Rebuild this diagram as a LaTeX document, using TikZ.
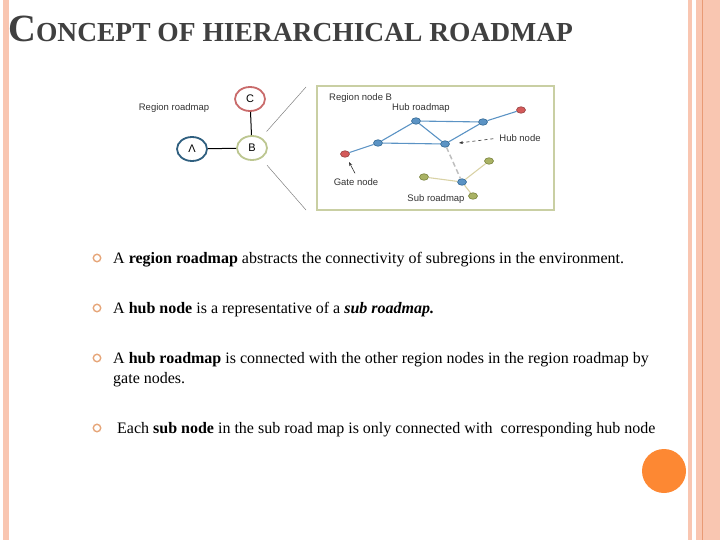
\documentclass[tikz,border=0pt]{standalone}
\usepackage{fontspec}
\setmainfont{Liberation Serif}
\newfontfamily\labelfont{Liberation Sans}
\usetikzlibrary{arrows.meta,shapes.geometric}

\definecolor{stripe}{HTML}{F9C6B1}
\definecolor{stripedark}{HTML}{E99A75}
\definecolor{titlegray}{HTML}{404040}
\definecolor{regionC}{HTML}{C96B6B}
\definecolor{regionB}{HTML}{BCC690}
\definecolor{regionA}{HTML}{2F5F7F}
\definecolor{hubfill}{HTML}{5B93C4}
\definecolor{hubedge}{HTML}{2E6591}
\definecolor{gatefill}{HTML}{D45A5A}
\definecolor{subfill}{HTML}{A9B264}
\definecolor{subedge}{HTML}{77803A}
\definecolor{subline}{HTML}{D9D2A6}
\definecolor{boxedge}{HTML}{C9CFA3}
\definecolor{bulletring}{HTML}{E6A67A}
\definecolor{sun}{HTML}{FD8833}

\tikzset{region/.style={ellipse, draw, line width=1.8pt, fill=white,
  minimum width=30pt, minimum height=24pt, inner sep=0pt,
  font=\labelfont\fontsize{11}{11}\selectfont}}
\tikzset{hub/.style={ellipse, draw=hubedge, fill=hubfill, line width=.6pt,
  minimum width=9pt, minimum height=6.5pt, inner sep=0pt}}
\tikzset{gate/.style={hub, draw=gatefill!70!black, fill=gatefill}}
\tikzset{subnode/.style={hub, draw=subedge, fill=subfill}}
\tikzset{hubline/.style={draw=hubfill, line width=1.1pt}}
\tikzset{subroad/.style={draw=subline, line width=1.1pt}}
\tikzset{lbl/.style={font=\labelfont\fontsize{9.5}{9.5}\selectfont, text=black!80, inner sep=0pt}}
\tikzset{bullet/.style={circle, draw=bulletring, line width=1.4pt,
  minimum size=7.5pt, inner sep=0pt}}
\tikzset{item/.style={anchor=base west, inner sep=0pt, align=left,
  font=\fontsize{16}{20}\selectfont}}

\begin{document}
\begin{tikzpicture}[x=1pt, y=-1pt]
\useasboundingbox (0,0) rectangle (720,540);

% side stripes
\fill[stripe] (3,0) rectangle (9,540);
\fill[stripe] (688,0) rectangle (692,540);
\fill[stripe] (696,0) rectangle (720,540);
\fill[stripedark] (702,0) rectangle (703.2,540);

% title
\node[anchor=base west, inner sep=0pt, text=titlegray, font=\bfseries] (title) at (8,42)
  {\fontsize{38.5}{38.5}\selectfont C\fontsize{27.5}{27.5}\selectfont ONCEPT OF HIERARCHICAL ROADMAP};

% region roadmap
\node[lbl] (rlbl) at (174,108) {Region roadmap};
\node[region, draw=regionC] (C) at (250,99) {C};
\node[region, draw=regionB] (B) at (252,148) {B};
\node[region, draw=regionA] (A) at (192,149) {Λ};
\draw[line width=1pt] (C) -- (B);
\draw[line width=1pt] (A) -- (B);

\coordinate (ztop) at (306,87);
\coordinate (zbot) at (306,210);
\draw[gray, line width=.5pt, shorten <=22pt] (B.center) -- (ztop);
\draw[gray, line width=.5pt, shorten <=23pt] (B.center) -- (zbot);

% region node B
\draw[boxedge, line width=1.5pt] (317,86) rectangle (554,210);
\node[lbl, anchor=west] (blbl) at (329,98) {Region node B};
\node[lbl] (hrlbl) at (421,108) {Hub roadmap};

\node[gate] (g1) at (345,154) {};
\node[gate] (g2) at (521,110) {};
\node[hub] (h1) at (378,143) {};
\node[hub] (h2) at (416,121) {};
\node[hub] (h3) at (445,144) {};
\node[hub] (h4) at (483,122) {};
\node[hub] (s0) at (462,182) {};
\node[subnode] (s1) at (424,177) {};
\node[subnode] (s2) at (489,161) {};
\node[subnode] (s3) at (473,196) {};

\draw[hubline] (g1) -- (h1) -- (h2) -- (h3) -- (h1);
\draw[hubline] (h2) -- (h4) -- (g2);
\draw[hubline] (h3) -- (h4);
\draw[black!25, dash pattern=on 5pt off 3pt, line width=1.5pt] (h3) -- (s0);
\draw[subroad] (s0) -- (s1);
\draw[subroad] (s0) -- (s2);
\draw[subroad] (s0) -- (s3);

\node[lbl] (hnlbl) at (520,138) {Hub node};
\node[lbl] (gnlbl) at (356,182) {Gate node};
\node[lbl] (srlbl) at (436,199) {Sub roadmap};
\coordinate (hubtip) at (459,143);
\coordinate (gatetip) at (349,162);
\draw[black!80, dashed, line width=.6pt, -{Stealth[length=4pt]}, shorten <=6pt] (hnlbl.west) -- (hubtip);
\draw[black!80, line width=.6pt, -{Stealth[length=4pt]}] ([xshift=-1pt, yshift=5pt]gnlbl.north) -- (gatetip);

% bullet list
\node[bullet] (b1) at (97,258) {};
\node[bullet] (b2) at (97,308) {};
\node[bullet] (b3) at (97,358) {};
\node[bullet] (b4) at (97,428) {};
\node[item] (t1) at (113,263) {A \textbf{region roadmap} abstracts the connectivity of subregions in the environment.};
\node[item] (t2) at (113,313) {A \textbf{hub node} is a representative of a \textbf{\textit{sub roadmap.}}};
\node[item] (t3) at (113,383) {A \textbf{hub roadmap} is connected with the other region nodes in the region roadmap by\\gate nodes.};
\node[item] (t4) at (117,433) {Each \textbf{sub node} in the sub road map is only connected with\ \ corresponding hub node};

\fill[sun] (664,471) circle[radius=22];

\end{tikzpicture}
\end{document}
